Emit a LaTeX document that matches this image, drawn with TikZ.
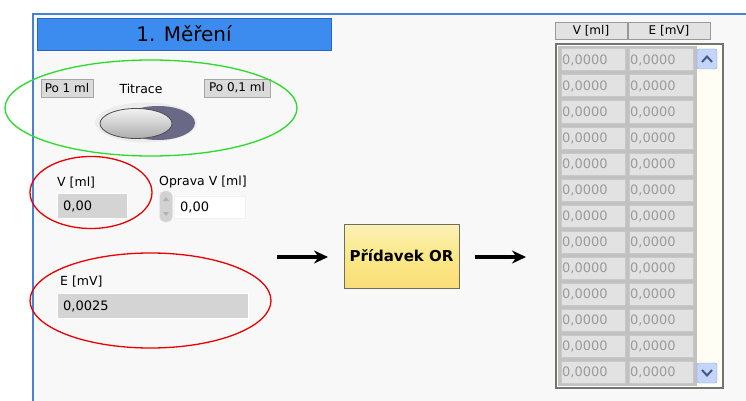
\documentclass[tikz,border=0pt]{standalone}
\usepackage{fontspec}
\setmainfont{DejaVu Sans}
\usetikzlibrary{arrows.meta,shapes.geometric}
\definecolor{panelbg}{RGB}{248,248,248}
\definecolor{winblue}{RGB}{70,130,220}
\definecolor{titleblue}{RGB}{60,140,240}
\definecolor{titleedge}{RGB}{40,100,200}
\definecolor{indfill}{RGB}{212,212,212}
\definecolor{btnfill}{RGB}{218,218,218}
\definecolor{celltxt}{RGB}{155,155,155}
\definecolor{cellfill}{RGB}{226,226,226}
\definecolor{celledge}{RGB}{200,200,200}
\definecolor{yel}{RGB}{250,232,135}
\definecolor{yeledge}{RGB}{110,110,90}
\definecolor{knobdark}{RGB}{105,105,135}
\definecolor{scrollfill}{RGB}{196,213,252}
\definecolor{scrolledge}{RGB}{140,165,220}
\definecolor{chev}{RGB}{70,90,130}
\definecolor{okgreen}{RGB}{40,220,40}
\definecolor{okred}{RGB}{235,0,0}
\tikzset{
  lbl/.style={inner sep=0pt, anchor=west, font=\fontsize{12.5}{14}\selectfont},
  minibtn/.style={draw=gray!70, fill=btnfill, inner sep=0pt, font=\fontsize{12}{14}\selectfont},
  indbox/.style={draw=white, line width=1pt, fill=indfill, inner sep=0pt},
  cell/.style={draw=celledge, line width=1pt, fill=cellfill, inner sep=0pt, minimum height=22pt},
  celltext/.style={inner sep=0pt, anchor=west, text=celltxt, font=\fontsize{13}{14}\selectfont},
  hdr/.style={draw=gray!80, fill=cellfill, inner sep=0pt, minimum height=17pt, font=\fontsize{12}{14}\selectfont},
  arr/.style={line width=3.5pt, -{Stealth[length=14pt,width=13pt]}},
  ring/.style={line width=1.3pt},
  scrollbtn/.style={draw=scrolledge, fill=scrollfill, rounded corners=2pt, minimum width=20pt, minimum height=20pt, inner sep=0pt},
}
\begin{document}
\begin{tikzpicture}[x=1pt,y=-1pt]
\useasboundingbox (0,0) rectangle (746,401);
\fill[white] (0,0) rectangle (746,401);
\fill[panelbg] (33,14) rectangle (746,401);
\draw[winblue, line width=2pt] (33,401) -- (33,14) -- (746,14);

% title
\node[draw=titleedge, fill=titleblue, minimum width=294pt, minimum height=32pt, inner sep=0pt,
      font=\fontsize{20}{22}\selectfont] (title) at (184,34) {1. Měření};

% green group
\node[minibtn, minimum width=52pt, minimum height=18pt] (po1) at (67,88) {Po 1 ml};
\node[inner sep=0pt, font=\fontsize{12.5}{14}\selectfont] (titr) at (141,89) {Titrace};
\node[minibtn, minimum width=66pt, minimum height=18pt] (po01) at (237,88) {Po 0,1 ml};
\fill[white!85!gray] (146,122.5) ellipse [x radius=51pt, y radius=20pt];
\fill[knobdark] (158,123) ellipse [x radius=37pt, y radius=17pt];
\shade[top color=white!90!gray, bottom color=gray!65, draw=black!70, line width=0.8pt]
  (136,123.5) ellipse [x radius=36pt, y radius=15pt];
\draw[okgreen, ring] (151,108) ellipse [x radius=146pt, y radius=48pt];

% V [ml]
\node[lbl] (vlbl) at (57,183) {V [ml]};
\node[indbox, minimum width=70pt, minimum height=25pt] (vbox) at (92,205.5) {};
\node[celltext, text=black] (vval) at (63,206) {0,00};
\draw[okred, ring] (91,192.5) ellipse [x radius=61pt, y radius=36pt];

% Oprava V
\node[lbl] (olbl) at (159,182) {Oprava V [ml]};
\node[draw=white!85!gray, fill=gray!35, rounded corners=5pt, minimum width=13pt, minimum height=31pt, inner sep=0pt] (spin) at (166,206.5) {};
\fill[gray!60] (166,197) -- (163,201) -- (169,201) -- cycle;
\fill[gray!60] (166,216) -- (163,212) -- (169,212) -- cycle;
\node[draw=white!90!gray, fill=white, minimum width=71pt, minimum height=22pt, inner sep=0pt] (obox) at (209.5,207) {};
\node[celltext, text=black] (oval) at (180,207) {0,00};

% E [mV]
\node[lbl] (elbl) at (60,282) {E [mV]};
\node[indbox, minimum width=191pt, minimum height=25pt] (ebox) at (152.5,305.5) {};
\node[celltext, text=black] (eval) at (63,306) {0,0025};
\draw[okred, ring] (150.5,300.5) ellipse [x radius=120.5pt, y radius=47.5pt];

% button + arrows
\node[draw=yeledge, line width=1pt, top color=yel!60!white, bottom color=yel!90!orange, middle color=yel,
      minimum width=115pt, minimum height=64pt, inner sep=0pt,
      font=\bfseries\fontsize{15}{17}\selectfont] (btn) at (401.5,256) {Přídavek OR};
\coordinate (a1s) at (277,257);
\coordinate (a1e) at (328,257);
\coordinate (a2s) at (475,257);
\coordinate (a2e) at (526,257);
\draw[arr] (a1s) -- (a1e);
\draw[arr] (a2s) -- (a2e);

% table
\node[hdr, minimum width=72pt] (h1) at (591,31) {V [ml]};
\node[hdr, minimum width=82pt] (h2) at (669,31) {E [mV]};
\node[draw=gray!90!black, line width=1.5pt, fill=white!96!yellow, minimum width=167pt, minimum height=344pt, inner sep=0pt] (tab) at (639.5,216) {};
\fill[celledge!90!gray] (558,46) rectangle (697,386);
\foreach \i in {0,...,12}{
  \pgfmathsetmacro{\yy}{60+26*\i}
  \node[cell, minimum width=64pt] (ca\i) at (593.5,\yy) {};
  \node[cell, minimum width=64pt] (cb\i) at (661.5,\yy) {};
  \node[celltext] (ta\i) at (562,\yy) {0,0000};
  \node[celltext] (tb\i) at (630,\yy) {0,0000};
}
\node[scrollbtn] (up) at (707,59) {};
\draw[chev, line width=2pt] (702,62) -- (707,56.5) -- (712,62);
\node[scrollbtn] (down) at (707,373) {};
\draw[chev, line width=2pt] (702,370) -- (707,375.5) -- (712,370);
\end{tikzpicture}
\end{document}
